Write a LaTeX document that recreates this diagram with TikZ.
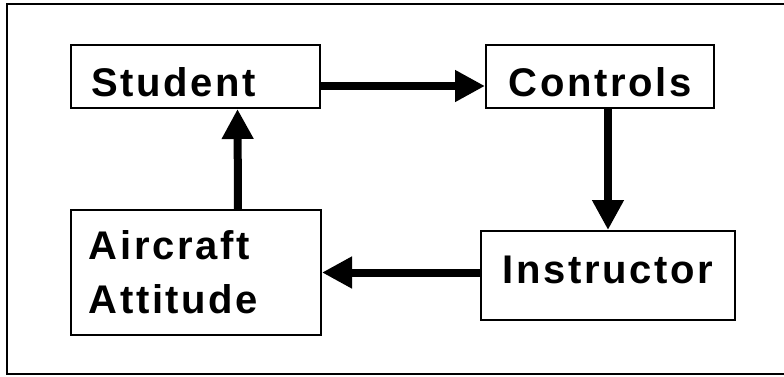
\documentclass[tikz,border=0pt]{standalone}
\usepackage{fontspec}
\newfontfamily\boxfont{Liberation Sans}[LetterSpace=6.5]
\usetikzlibrary{arrows.meta}

\begin{document}
\begin{tikzpicture}[%
    x=0.5pt, y=-0.5pt,
    >={Triangle[length=15pt,width=15pt]},
    box/.style={%
      draw,
      line width=1pt,
      anchor=north west,
      inner sep=0pt,
      align=left,
      font=\boxfont\bfseries\fontsize{20}{27}\selectfont
    },
    flow/.style={->, line width=4pt},
    frame/.style={draw, line width=1.2pt}
  ]
    \clip (0,0) rectangle (784,376);
    \draw[frame] (7,4) rectangle (800,374);

    \node[box, minimum width=124.5pt, text width=104.5pt, minimum height=31.5pt,
          text height=19.5pt, text depth=0pt] (student) at (70,44) {Student};

    \node[box, minimum width=114pt, minimum height=31.5pt,
          text height=19.5pt, text depth=0pt] (controls) at (485,44) {Controls};

    \node[box, minimum width=127pt, minimum height=44.5pt,
          text height=7.5pt, text depth=0pt] (instructor) at (480,230) {Instructor};

    \node[box, minimum width=125pt, text width=107pt,
          minimum height=62.5pt] (aircraft) at (70,209) {Aircraft\\Attitude};

    \path[flow]
      ([yshift=-4.75pt]student.east) edge ([yshift=-4.75pt]controls.west)
      (controls.south -| instructor) edge (instructor.north)
      (instructor.west |- aircraft) edge (aircraft.east)
      ([xshift=21pt]aircraft.north) edge ([xshift=21pt]student.south)
    ;
\end{tikzpicture}
\end{document}
